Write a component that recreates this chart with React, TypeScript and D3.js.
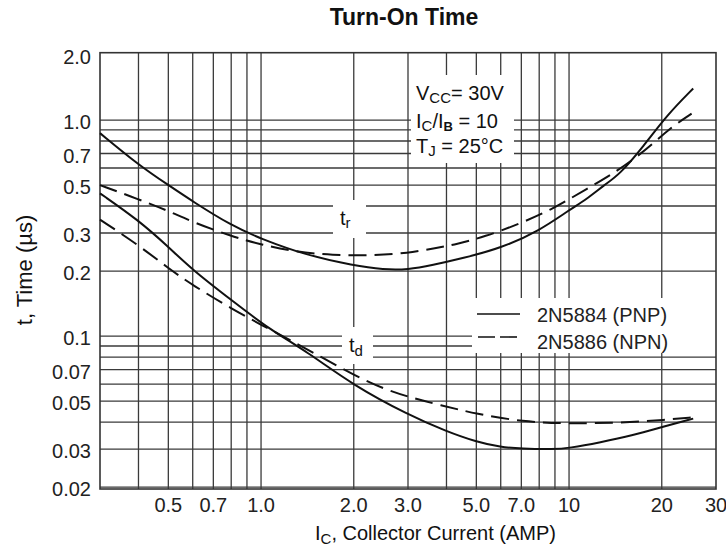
import React, { useEffect, useRef } from 'react';
import * as d3 from 'd3';

// axis ticks
const xTicks = [0.5, 0.7, 1.0, 2.0, 3.0, 5.0, 7.0, 10, 20, 30];
const xTickLabels = ['0.5', '0.7', '1.0', '2.0', '3.0', '5.0', '7.0', '10', '20', '30'];
const yTicks = [2.0, 1.0, 0.7, 0.5, 0.3, 0.2, 0.1, 0.07, 0.05, 0.03, 0.02];
const yTickLabels = ['2.0', '1.0', '0.7', '0.5', '0.3', '0.2', '0.1', '0.07', '0.05', '0.03', '0.02'];

// log grid lines
const xGrid = [0.4, 0.5, 0.6, 0.7, 0.8, 0.9, 1, 2, 3, 4, 5, 6, 7, 8, 9, 10, 20];
const yGrid = [1, 0.9, 0.8, 0.7, 0.6, 0.5, 0.4, 0.3, 0.2, 0.1, 0.09, 0.08, 0.07, 0.06, 0.05, 0.04, 0.03, 0.02];

// rise time, 2N5884 (PNP) - solid
const trPnpCurrent = [0.3, 0.4, 0.5, 0.6, 0.8, 1.0, 1.4, 2.0, 2.5, 3.0, 3.6, 4.5, 6.0, 8.0, 10, 11.4, 13, 14.6, 17.4, 20.8, 25.3];
const trPnpTime = [0.87, 0.62, 0.5, 0.42, 0.325, 0.282, 0.237, 0.212, 0.203, 0.203, 0.213, 0.229, 0.255, 0.307, 0.383, 0.43, 0.5, 0.56, 0.752, 1.055, 1.4];

// rise time, 2N5886 (NPN) - dashed
const trNpnCurrent = [0.3, 0.4, 0.5, 0.6, 0.8, 1.0, 1.3, 1.7, 2.3, 3.0, 3.7, 4.3, 5.3, 7.0, 8.9, 10, 11.7, 13.6, 16.1, 18.8, 21.2, 25];
const trNpnTime = [0.5, 0.43, 0.38, 0.337, 0.29, 0.265, 0.245, 0.237, 0.236, 0.242, 0.256, 0.266, 0.288, 0.333, 0.39, 0.43, 0.49, 0.555, 0.653, 0.78, 0.915, 1.07];

// delay time, 2N5884 (PNP) - solid
const tdPnpCurrent = [0.3, 0.4, 0.5, 0.6, 0.8, 1.06, 1.41, 2.0, 3.0, 4.0, 5.0, 6.0, 7.0, 8.9, 10, 12.6, 16.2, 20, 25.3];
const tdPnpTime = [0.458, 0.344, 0.259, 0.202, 0.147, 0.108, 0.0847, 0.059, 0.0433, 0.0362, 0.0324, 0.0306, 0.0301, 0.0299, 0.0303, 0.0322, 0.0348, 0.0379, 0.0415];

// delay time, 2N5886 (NPN) - dashed
const tdNpnCurrent = [0.3, 0.4, 0.5, 0.6, 0.8, 1.06, 1.41, 2.0, 2.5, 3.05, 3.8, 5.0, 7.1, 9.8, 14.3, 20.8, 25.3];
const tdNpnTime = [0.346, 0.264, 0.206, 0.172, 0.134, 0.108, 0.087, 0.066, 0.057, 0.052, 0.048, 0.0436, 0.0401, 0.0394, 0.0396, 0.041, 0.0421];

const legendLabels = ['2N5884 (PNP)', '2N5886 (NPN)'];

const FONT = '"Liberation Sans", Arial, Helvetica, sans-serif';

const App: React.FC = () => {
  const svgRef = useRef<SVGSVGElement>(null);

  useEffect(() => {
    if (!svgRef.current) return;
    const svg = d3.select(svgRef.current);
    svg.selectAll('*').remove();

    const left = 100, right = 716, top = 52.7, bottom = 489;
    const x = d3.scaleLog().domain([0.3, 30]).range([left, right]);
    const y = d3.scaleLog().domain([0.0196, 2.05]).range([bottom, top]);

    svg.append('rect').attr('width', 726).attr('height', 560).attr('fill', '#fff');

    // Grid
    const grid = svg.append('g').attr('stroke', '#3a3a3a').attr('stroke-width', 1.3);
    grid.selectAll('.vx').data(xGrid).enter().append('line')
      .attr('x1', d => x(d)).attr('x2', d => x(d))
      .attr('y1', top).attr('y2', bottom);
    grid.selectAll('.hy').data(yGrid).enter().append('line')
      .attr('x1', left).attr('x2', right)
      .attr('y1', d => y(d)).attr('y2', d => y(d));

    // white knock-outs behind labels
    const boxes = [
      [411, 514, 75, 163],   // conditions
      [472, 716, 298, 353],  // legend
      [333, 366, 200, 238],  // t_r
      [342, 373, 327, 364],  // t_d
    ];
    svg.append('g').selectAll('rect').data(boxes).enter().append('rect')
      .attr('x', d => d[0]).attr('y', d => d[2])
      .attr('width', d => d[1] - d[0]).attr('height', d => d[3] - d[2])
      .attr('fill', '#fff');

    // Frame
    svg.append('rect')
      .attr('x', left).attr('y', top)
      .attr('width', right - left).attr('height', bottom - top)
      .attr('fill', 'none').attr('stroke', '#333').attr('stroke-width', 1.6);

    // Curves
    const line = d3.line<[number, number]>()
      .x(d => x(d[0]))
      .y(d => y(d[1]))
      .curve(d3.curveBasis);

    const series = [
      { xs: trPnpCurrent, ys: trPnpTime, dash: null },
      { xs: trNpnCurrent, ys: trNpnTime, dash: '18 8' },
      { xs: tdPnpCurrent, ys: tdPnpTime, dash: null },
      { xs: tdNpnCurrent, ys: tdNpnTime, dash: '18 8' },
    ];
    series.forEach(s => {
      const pts = s.xs.map((v, i) => [v, s.ys[i]] as [number, number]);
      svg.append('path')
        .attr('d', line(pts))
        .attr('fill', 'none')
        .attr('stroke', '#111')
        .attr('stroke-width', 2)
        .attr('stroke-dasharray', s.dash);
    });

    // Tick labels
    svg.append('g').selectAll('text').data(xTicks).enter().append('text')
      .attr('x', d => x(d)).attr('y', 512)
      .attr('text-anchor', 'middle')
      .attr('font-family', FONT).attr('font-size', 20).attr('fill', '#222')
      .text((d, i) => xTickLabels[i]);

    svg.append('g').selectAll('text').data(yTicks).enter().append('text')
      .attr('x', 91).attr('y', d => y(d) + 9)
      .attr('text-anchor', 'end')
      .attr('font-family', FONT).attr('font-size', 20).attr('fill', '#222')
      .text((d, i) => yTickLabels[i]);

    // Title
    svg.append('text')
      .attr('x', 404).attr('y', 25)
      .attr('text-anchor', 'middle')
      .attr('font-family', FONT).attr('font-size', 23).attr('font-weight', 'bold')
      .attr('fill', '#111')
      .text('Turn-On Time');

    // X axis label
    const xl = svg.append('text')
      .attr('x', 315).attr('y', 540)
      .attr('font-family', FONT).attr('font-size', 20).attr('fill', '#111');
    xl.append('tspan').text('I');
    xl.append('tspan').attr('font-size', 15).attr('dy', 4).text('C');
    xl.append('tspan').attr('dy', -4).text(', Collector Current (AMP)');

    // Y axis label
    svg.append('text')
      .attr('transform', 'translate(32,270) rotate(-90)')
      .attr('text-anchor', 'middle')
      .attr('font-family', FONT).attr('font-size', 22).attr('fill', '#111')
      .text('t, Time (\u00b5s)');

    // Conditions
    const cond = svg.append('g').attr('font-family', FONT).attr('font-size', 20).attr('fill', '#111');
    const c1 = cond.append('text').attr('x', 416).attr('y', 100);
    c1.append('tspan').text('V');
    c1.append('tspan').attr('font-size', 15).attr('dy', 3).text('CC');
    c1.append('tspan').attr('dy', -3).text('= 30V');
    const c2 = cond.append('text').attr('x', 416).attr('y', 128);
    c2.append('tspan').text('I');
    c2.append('tspan').attr('font-size', 15).attr('dy', 3).text('C');
    c2.append('tspan').attr('dy', -3).text('/I');
    c2.append('tspan').attr('font-size', 13).attr('font-weight', 'bold').attr('dy', 3).text('B');
    c2.append('tspan').attr('dy', -3).text(' = 10');
    const c3 = cond.append('text').attr('x', 416).attr('y', 153);
    c3.append('tspan').text('T');
    c3.append('tspan').attr('font-size', 15).attr('dy', 3).text('J');
    c3.append('tspan').attr('dy', -3).text(' = 25\u00b0C');

    // Curve labels
    const tr = cond.append('text').attr('x', 340).attr('y', 225);
    tr.append('tspan').text('t');
    tr.append('tspan').attr('font-size', 15).attr('dy', 3).text('r');
    const td = cond.append('text').attr('x', 349).attr('y', 352);
    td.append('tspan').text('t');
    td.append('tspan').attr('font-size', 15).attr('dy', 4).text('d');

    // Legend
    const lg = svg.append('g');
    lg.append('line').attr('x1', 477).attr('x2', 520).attr('y1', 314).attr('y2', 314)
      .attr('stroke', '#111').attr('stroke-width', 1.6);
    lg.append('line').attr('x1', 478).attr('x2', 517).attr('y1', 337).attr('y2', 337)
      .attr('stroke', '#111').attr('stroke-width', 1.6).attr('stroke-dasharray', '17 5');
    lg.selectAll('text').data(legendLabels).enter().append('text')
      .attr('x', 537).attr('y', (d, i) => 322 + i * 27)
      .attr('font-family', FONT).attr('font-size', 20).attr('fill', '#222')
      .text(d => d);
  }, []);

  return (
    <svg ref={svgRef} width={726} height={560}
      style={{ position: 'absolute', left: 0, top: 0 }} />
  );
};

export default App;
